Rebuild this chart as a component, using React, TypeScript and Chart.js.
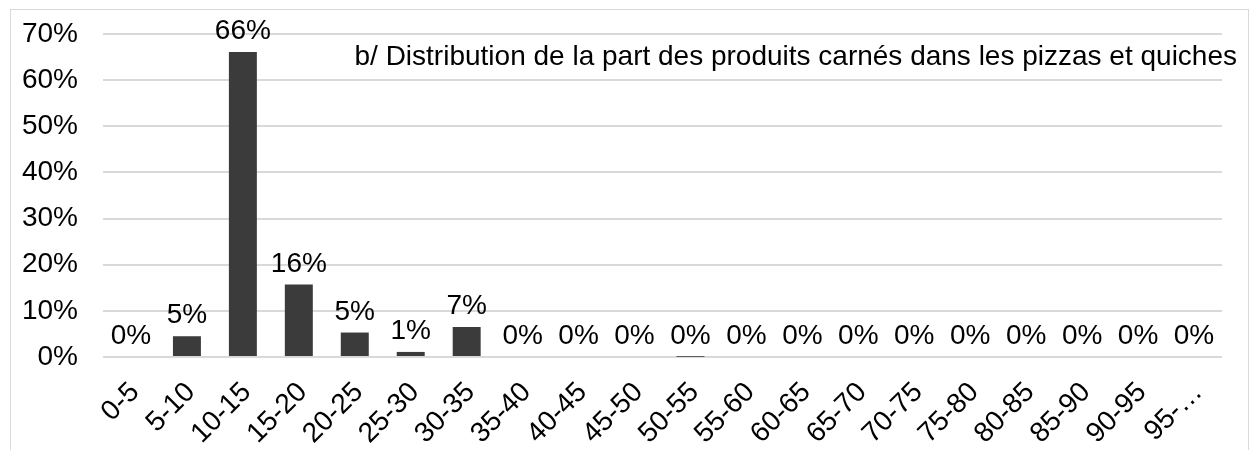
import React, { useEffect, useRef } from "react";
import { Chart, registerables } from "chart.js";

Chart.register(...registerables);

const categories = [
  "0-5", "5-10", "10-15", "15-20", "20-25", "25-30", "30-35", "35-40", "40-45", "45-50",
  "50-55", "55-60", "60-65", "65-70", "70-75", "75-80", "80-85", "85-90", "90-95", "95-…",
];
const values = [0, 4.5, 66.1, 15.7, 5.3, 1.1, 6.5, 0, 0, 0, 0.05, 0, 0, 0, 0, 0, 0, 0, 0, 0];
const yTicks = [0, 10, 20, 30, 40, 50, 60, 70];
const titleText = "b/ Distribution de la part des produits carnés dans les pizzas et quiches";

const FONT = "Liberation Sans, Arial, sans-serif";

const labelPlugin = {
  id: "barLabels",
  afterDatasetsDraw(chart: any) {
    const ctx = chart.ctx;
    const meta = chart.getDatasetMeta(0);
    ctx.save();
    ctx.fillStyle = "#000";
    ctx.font = `28px ${FONT}`;
    ctx.textAlign = "center";
    ctx.textBaseline = "alphabetic";
    meta.data.forEach((bar: any, i: number) => {
      const v = values[i];
      ctx.fillText(Math.round(v) + "%", bar.x, bar.y - 13);
    });
    // title inside plot area
    ctx.textAlign = "right";
    ctx.font = `28px ${FONT}`;
    ctx.fillText(titleText, 1237, 65);
    ctx.restore();
  },
};

export default function App() {
  const ref = useRef<HTMLCanvasElement>(null);
  useEffect(() => {
    document.body.style.margin = "0";
    const chart = new Chart(ref.current!, {
      type: "bar",
      data: {
        labels: categories,
        datasets: [
          {
            data: values,
            backgroundColor: "#3b3b3b",
            barPercentage: 0.5,
            categoryPercentage: 1,
          },
        ],
      },
      options: {
        animation: false,
        responsive: false,
        layout: { padding: { left: 0, right: 32, top: 34, bottom: 0 } },
        plugins: { legend: { display: false }, tooltip: { enabled: false }, title: { display: false } },
        scales: {
          x: {
            grid: { display: false, drawTicks: false },
            border: { display: false },
            ticks: {
              color: "#000",
              font: { family: FONT, size: 28 },
              minRotation: 45,
              maxRotation: 45,
              padding: 19,
              labelOffset: 4,
              autoSkip: false,
            },
            afterFit(scale: any) {
              scale.height = 93;
              scale.paddingLeft = 0;
              scale.paddingRight = 0;
            },
          },
          y: {
            min: 0,
            max: 70,
            afterBuildTicks(scale: any) {
              scale.ticks = yTicks.map((v) => ({ value: v }));
            },
            grid: { color: "#d9d9d9", lineWidth: 2, drawTicks: false },
            border: { display: false },
            ticks: {
              color: "#000",
              font: { family: FONT, size: 28 },
              padding: 25,
              callback: (v: any) => v + "%",
            },
            afterFit(scale: any) {
              scale.width = 103;
              scale.paddingTop = 0;
              scale.paddingBottom = 0;
            },
          },
        },
      },
      plugins: [labelPlugin],
    });
    return () => chart.destroy();
  }, []);
  return (
    <div style={{ position: "relative", width: 1254, height: 450, background: "#fff" }}>
      <div
        style={{
          position: "absolute",
          left: 10,
          top: 9,
          width: 1239,
          height: 460,
          border: "1px solid #d9d9d9",
          boxSizing: "border-box",
        }}
      />
      <canvas ref={ref} width={1254} height={450} style={{ position: "absolute", left: 0, top: 0 }} />
    </div>
  );
}
